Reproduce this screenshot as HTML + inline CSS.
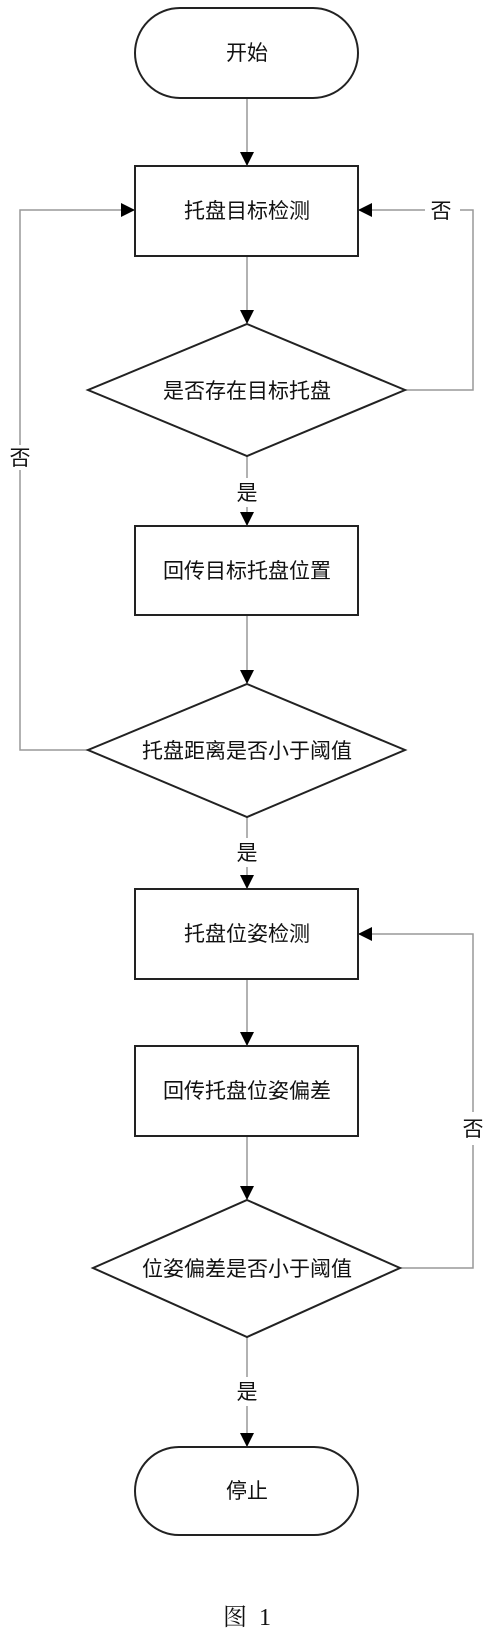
<!DOCTYPE html>
<html><head><meta charset="utf-8"><style>
html,body{margin:0;padding:0;background:#fff;}
svg{display:block;}
text{font-family:"Liberation Sans","Noto Sans CJK SC",sans-serif;font-size:21px;fill:#111;}
</style></head><body>
<svg width="495" height="1639" viewBox="0 0 495 1639" xmlns="http://www.w3.org/2000/svg">
<defs>
<marker id="a" markerWidth="14" markerHeight="14" refX="13" refY="7" orient="auto" markerUnits="userSpaceOnUse">
<path d="M0,0 L14,7 L0,14 Z" fill="#000"/></marker>
</defs>
<g fill="none" stroke="#999" stroke-width="1.5">
<line x1="247" y1="98" x2="247" y2="165" marker-end="url(#a)"/>
<line x1="247" y1="256" x2="247" y2="323" marker-end="url(#a)"/>
<line x1="247" y1="456" x2="247" y2="478"/>
<line x1="247" y1="507" x2="247" y2="525" marker-end="url(#a)"/>
<line x1="247" y1="615" x2="247" y2="683" marker-end="url(#a)"/>
<line x1="247" y1="817" x2="247" y2="838"/>
<line x1="247" y1="867" x2="247" y2="888" marker-end="url(#a)"/>
<line x1="247" y1="979" x2="247" y2="1045" marker-end="url(#a)"/>
<line x1="247" y1="1136" x2="247" y2="1199" marker-end="url(#a)"/>
<line x1="247" y1="1337" x2="247" y2="1377"/>
<line x1="247" y1="1406" x2="247" y2="1446" marker-end="url(#a)"/>
<polyline points="88,750 20,750 20,470"/>
<polyline points="20,445 20,210 134,210" marker-end="url(#a)"/>
<polyline points="405,390 473,390 473,210 460,210"/>
<line x1="425" y1="210" x2="359" y2="210" marker-end="url(#a)"/>
<polyline points="400,1268 473,1268 473,1145"/>
<polyline points="473,1112 473,934 359,934" marker-end="url(#a)"/>
</g>
<g fill="#fff" stroke="#222" stroke-width="2">
<rect x="135" y="8" width="223" height="90" rx="45"/>
<rect x="135" y="166" width="223" height="90"/>
<polygon points="247,324 405,390 247,456 88,390"/>
<rect x="135" y="526" width="223" height="89"/>
<polygon points="247,684 405,750 247,817 88,750"/>
<rect x="135" y="889" width="223" height="90"/>
<rect x="135" y="1046" width="223" height="90"/>
<polygon points="247,1200 400,1268 247,1337 93,1268"/>
<rect x="135" y="1447" width="223" height="88" rx="44"/>
</g>
<g text-anchor="middle">
<text x="247" y="60">开始</text>
<text x="247" y="218">托盘目标检测</text>
<text x="247" y="398">是否存在目标托盘</text>
<text x="247" y="578">回传目标托盘位置</text>
<text x="247" y="758">托盘距离是否小于阈值</text>
<text x="247" y="941">托盘位姿检测</text>
<text x="247" y="1098">回传托盘位姿偏差</text>
<text x="247" y="1276">位姿偏差是否小于阈值</text>
<text x="247" y="1498">停止</text>
<text x="247" y="500">是</text>
<text x="247" y="860">是</text>
<text x="247" y="1399">是</text>
<text x="441" y="218">否</text>
<text x="20" y="465">否</text>
<text x="473" y="1136">否</text>
<text x="247" y="1625" style="font-family:'Liberation Serif','Noto Serif CJK SC',serif;font-size:24px;" xml:space="preserve">图  1</text>
</g>
</svg>
</body></html>
